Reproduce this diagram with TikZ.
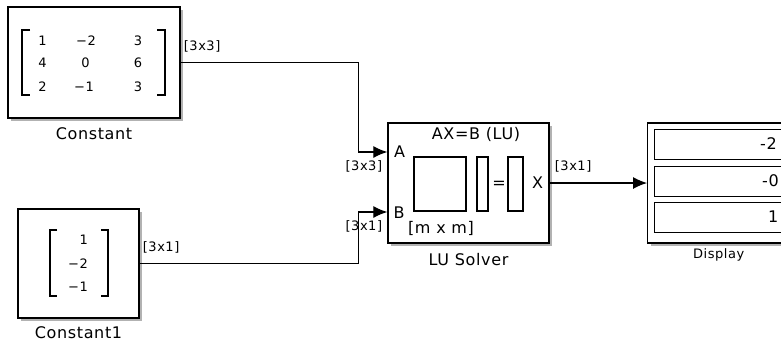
\documentclass[tikz,border=0pt]{standalone}
\usepackage{fontspec}
\setmainfont[LetterSpace=4]{DejaVu Sans}
\usetikzlibrary{positioning,shadows,arrows.meta}

\begin{document}
\begin{tikzpicture}[
    x=1pt, y=-1pt,
    block/.style={rectangle, draw, line width=1.4pt, fill=white, drop shadow={shadow xshift=3pt, shadow yshift=-3pt, fill=black, opacity=0.3}},
    field/.style={rectangle, draw, line width=1.3pt, fill=white, anchor=north west, minimum width=140pt, minimum height=30pt},
    entry/.style={font=\fontsize{13}{13}\selectfont, inner sep=1pt},
    bracket/.style={line width=1.2pt},
    dim/.style={font=\fontsize{13}{13}\selectfont, inner sep=1pt},
    caption/.style={font=\fontsize{16}{16}\selectfont, inner sep=1pt},
    arrow/.style={line width=1.1pt, -{Latex[length=14pt, width=12pt]}}
]
    \useasboundingbox (0,0) rectangle (781,346);
    \clip (0,0) rectangle (781,346);

    % blocks
    \node[block, minimum width=172pt, minimum height=111pt] (const) at (94,62.5) {};
    \node[block, minimum width=121pt, minimum height=109pt] (const1) at (78.5,263.5) {};
    \node[block, minimum width=161pt, minimum height=120pt] (lu) at (468.5,183) {};
    \node[block, minimum width=160pt, minimum height=120pt, anchor=west] (disp) at (647,183) {};

    \node[caption, below=8pt of const] {Constant};
    \node[caption, below=6.5pt of const1] {Constant1};
    \node[caption, below=8pt of lu] {LU Solver};
    \node[dim, below=4pt of disp.south, xshift=-9pt] {Display};

    % constant matrices
    \draw[bracket] (30,30) -- (22,30) -- (22,95) -- (30,95);
    \draw[bracket] (157,30) -- (165,30) -- (165,95) -- (157,95);
    \node[entry] at (42.5,40.5) {1};
    \node[entry] at (86,40.5) {−2};
    \node[entry] at (138,40.5) {3};
    \node[entry] at (42.5,63) {4};
    \node[entry] at (85.5,63) {0};
    \node[entry] at (138,63) {6};
    \node[entry] at (42.5,86.5) {2};
    \node[entry] at (84,86.5) {−1};
    \node[entry] at (138,86.5) {3};

    \draw[bracket] (57,230) -- (50,230) -- (50,296) -- (57,296);
    \draw[bracket] (101,230) -- (108,230) -- (108,296) -- (101,296);
    \node[entry, anchor=east] at (89,240) {1};
    \node[entry, anchor=east] at (89,264) {−2};
    \node[entry, anchor=east] at (89,287) {−1};

    % solver icon
    \coordinate (portA) at ([yshift=31pt]lu.west);
    \coordinate (portB) at ([yshift=-29pt]lu.west);
    \node[caption, below=4pt of lu.north, xshift=7.5pt] {AX=B (LU)};
    \node[caption, right=5.5pt of portA] {A};
    \node[caption, right=5pt of portB, yshift=-1pt] {B};
    \node[caption, left=5.5pt of lu.east] {X};
    \draw[bracket] (414,157) rectangle (466,211);
    \draw[bracket] (477,157) rectangle (488,211);
    \node[caption] at (499,185) {=};
    \draw[bracket] (508,157) rectangle (523,211);
    \node[caption] at (441,228) {[m x m]};

    % display rows
    \node[field] (row1) at (654,129) {};
    \node[field] (row2) at (654,165.5) {};
    \node[field] (row3) at (654,201.5) {};
    \node[caption, anchor=west] at (759,144) {-2};
    \node[caption, anchor=west] at (761,180.5) {-0};
    \node[caption, anchor=west] at (767,216.5) {1};

    % signals
    \draw[arrow] (const.east) -| ([xshift=-29pt]portA) -- (portA);
    \draw[arrow] (const1.east) -| ([xshift=-29pt]portB) -- (portB);
    \draw[arrow] (lu.east) -- (disp.west);

    \node[dim, above right=9.5pt and 2pt of const.east] {[3x3]};
    \node[dim, above right=9.5pt and 2pt of const1.east] {[3x1]};
    \node[dim, above right=10pt and 4pt of lu.east] {[3x1]};
    \node[dim, below left=7pt and 4pt of portA] {[3x3]};
    \node[dim, below left=7pt and 4pt of portB] {[3x1]};
\end{tikzpicture}
\end{document}
